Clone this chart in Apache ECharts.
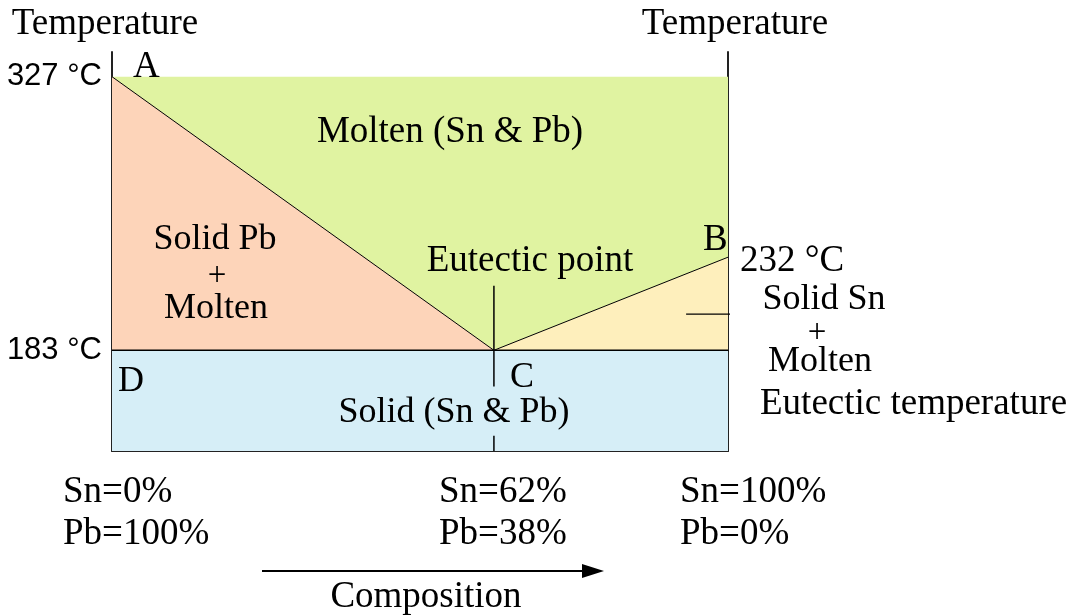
<!DOCTYPE html>
<html>
<head>
<meta charset="utf-8">
<script src="https://cdn.jsdelivr.net/npm/echarts@6/dist/echarts.min.js"></script>
<style>html,body{margin:0;padding:0;background:#fff}#chart{width:1068px;height:615px}</style>
</head>
<body>
<div id="chart"></div>
<script>
// ---- data ----
const composition = [0, 62, 100];          // Sn % at A, C (eutectic), B
const liquidus = [327, 183, 232];          // °C at A, C, B
const eutecticTemp = 183;                  // °C
const tempTicks = [183, 327];              // labelled temperatures
const compLabels = [['Sn=0%', 'Pb=100%'], ['Sn=62%', 'Pb=38%'], ['Sn=100%', 'Pb=0%']];
const eutecticMarkUpper = [217, 164];      // vertical marker at C (°C)
const eutecticMarkLower = [138, 130];
const tempMin = 130, tempMax = 340;

const SERIF = '"Liberation Serif", "Times New Roman", serif';
const SANS = '"Liberation Sans", Arial, sans-serif';
const chart = echarts.init(document.getElementById('chart'), null, {renderer: 'canvas'});

const DY = 3;
function txt(text, x, y, align, size, lh) {
  return {type: 'text', x: x, y: y + DY, z: 100, silent: true,
    style: {text: text, fill: '#000', fontFamily: SERIF, fontSize: size || 37, lineHeight: lh || 32,
            align: align || 'center', verticalAlign: 'middle'}};
}

const [xA, xC, xB] = composition;
const [tA, tC, tB] = liquidus;

chart.setOption({
  animation: false,
  grid: {left: 112, right: 340, top: 52, bottom: 164},
  xAxis: {type: 'value', min: 0, max: 100, axisLine: {show: true, lineStyle: {color: '#222', width: 2}},
    axisTick: {show: false}, axisLabel: {show: false}, splitLine: {show: false}},
  yAxis: [
    {type: 'value', min: tempMin, max: tempMax, position: 'left',
     axisLine: {show: true, lineStyle: {color: '#222', width: 2}}, axisTick: {show: false},
     axisLabel: {customValues: tempTicks, formatter: v => v + ' °C', color: '#000', fontFamily: SANS, fontSize: 31, margin: 10, padding: [4, 0, 0, 0]},
     splitLine: {show: false},
     name: 'Temperature', nameLocation: 'end', nameGap: 9,
     nameTextStyle: {color: '#000', fontFamily: SERIF, fontSize: 37, padding: [0, 14, 0, 0]}},
    {type: 'value', min: tempMin, max: tempMax, position: 'right',
     axisLine: {show: true, lineStyle: {color: '#222', width: 2}}, axisTick: {show: false},
     axisLabel: {show: false}, splitLine: {show: false},
     name: 'Temperature', nameLocation: 'end', nameGap: 9,
     nameTextStyle: {color: '#000', fontFamily: SERIF, fontSize: 37, padding: [0, 0, 0, 14]}}
  ],
  series: [
    {type: 'custom', silent: true, z: 1, data: [[0, 0]],
     renderItem: function (params, api) {
       const c = (x, y) => api.coord([x, y]);
       return {type: 'group', children: [
         {type: 'polygon', shape: {points: [c(xA, tA), c(xB, tA), c(xB, tB), c(xC, tC)]}, style: {fill: '#e0f3a1'}},
         {type: 'polygon', shape: {points: [c(xA, tA), c(xC, tC), c(xA, eutecticTemp)]}, style: {fill: '#fdd4b9'}},
         {type: 'polygon', shape: {points: [c(xC, tC), c(xB, tB), c(xB, eutecticTemp)]}, style: {fill: '#feefbc'}},
         {type: 'polygon', shape: {points: [c(xA, eutecticTemp), c(xB, eutecticTemp), c(xB, tempMin), c(xA, tempMin)]}, style: {fill: '#d6eef7'}}
       ]};
     }},
    {type: 'line', z: 3, symbol: 'none', lineStyle: {color: '#000', width: 1},
     data: composition.map((x, i) => [x, liquidus[i]])},
    {type: 'line', z: 3, symbol: 'none', lineStyle: {color: '#000', width: 1.5},
     data: [[xA, eutecticTemp], [xB, eutecticTemp]]},
    {type: 'line', z: 3, symbol: 'none', lineStyle: {color: '#000', width: 1.5},
     data: eutecticMarkUpper.map(t => [xC, t])},
    {type: 'line', z: 3, symbol: 'none', lineStyle: {color: '#000', width: 1.5},
     data: eutecticMarkLower.map(t => [xC, t])},
    {type: 'line', z: 3, symbol: 'none', clip: false, lineStyle: {color: '#000', width: 1.2},
     data: [[93.2, 202], [104.4, 202]]},
    {type: 'line', z: 3, symbol: 'none', clip: false, lineStyle: {color: '#000', width: 1},
     data: [[xB, eutecticTemp], [104.6, 168]]}
  ],
  graphic: [
    txt('A', 133, 64, 'left'),
    txt('B', 703, 237, 'left'),
    txt('C', 510, 375, 'left', 36),
    txt('D', 118, 379, 'left', 36),
    txt('Molten (Sn & Pb)', 450, 129),
    txt('Solid Pb', 215, 237, 'center', 36),
    txt('+', 217, 273, 'center', 33, 20),
    txt('Molten', 216, 306, 'center', 36),
    txt('Eutectic point', 530, 258),
    txt('232 °C', 740, 258, 'left'),
    txt('Solid Sn', 824, 296.5, 'center', 36),
    txt('+', 817, 330, 'center', 33, 20),
    txt('Molten', 820, 359, 'center', 36),
    txt('Eutectic temperature', 760, 401, 'left'),
    txt('Solid (Sn & Pb)', 454, 410, 'center', 36),
    txt(compLabels[0][0] + '\n' + compLabels[0][1], 63, 510, 'left', 37, 42),
    txt(compLabels[1][0] + '\n' + compLabels[1][1], 439, 510, 'left', 37, 42),
    txt(compLabels[2][0] + '\n' + compLabels[2][1], 680, 510, 'left', 37, 42),
    {type: 'line', z: 100, silent: true, shape: {x1: 262, y1: 571, x2: 590, y2: 571}, style: {stroke: '#000', lineWidth: 2}},
    {type: 'polygon', z: 100, silent: true, shape: {points: [[582, 564], [604, 571], [582, 578]]}, style: {fill: '#000'}},
    txt('Composition', 426, 594)
  ]
});
</script>
</body>
</html>
